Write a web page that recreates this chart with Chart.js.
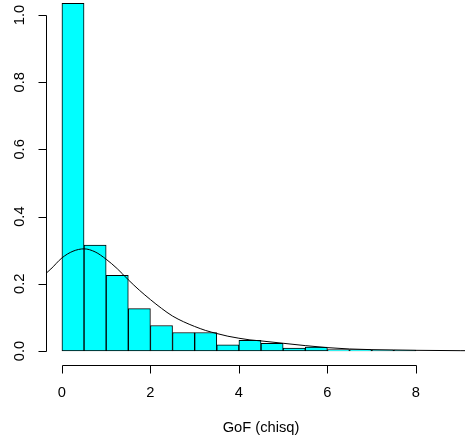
<!DOCTYPE html>
<html>
<head>
<meta charset="utf-8">
<script src="https://cdn.jsdelivr.net/npm/chart.js@4"></script>
<style>
  html, body { margin: 0; padding: 0; background: #fff; }
  #wrap { width: 465px; height: 441px; position: relative; }
</style>
</head>
<body>
<div id="wrap"><canvas id="c" width="465" height="441"></canvas></div>
<script>
// Histogram bins (centers) and densities
const binCenters = [0.25, 0.75, 1.25, 1.75, 2.25, 2.75, 3.25, 3.75, 4.25, 4.75, 5.25, 5.75, 6.25, 6.75, 7.25, 7.75, 8.25, 8.75];
const binDensity = [1.035, 0.315, 0.225, 0.126, 0.076, 0.055, 0.055, 0.018, 0.032, 0.023, 0.009, 0.012, 0.004, 0.004, 0.003, 0.003, 0.0, 0.0];

// Density curve
const curveX = [-0.36, -0.25, 0, 0.25, 0.5, 0.75, 1.0, 1.25, 1.5, 1.75, 2.0, 2.25, 2.5, 2.75, 3.0, 3.25, 3.5, 3.75, 4.0, 4.25, 4.5, 5.0, 5.5, 6.0, 6.5, 7.0, 7.5, 8.0, 9.0, 9.11];
const curveY = [0.231, 0.244, 0.277, 0.297, 0.304, 0.295, 0.273, 0.245, 0.212, 0.181, 0.153, 0.127, 0.104, 0.087, 0.073, 0.061, 0.052, 0.044, 0.038, 0.033, 0.030, 0.023, 0.016, 0.010, 0.006, 0.004, 0.003, 0.002, 0.001, 0.001];

// Axis ticks and labels
const xTicks = [0, 2, 4, 6, 8];
const yTicks = [0.0, 0.2, 0.4, 0.6, 0.8, 1.0];
const yTickLabels = ["0.0", "0.2", "0.4", "0.6", "0.8", "1.0"];
const xTitle = "GoF (chisq)";

const FONT = '14.7px "Liberation Sans", Arial, sans-serif';

const rAxes = {
  id: 'rAxes',
  afterDraw(chart) {
    const ctx = chart.ctx;
    const xs = chart.scales.x, ys = chart.scales.y;
    const area = chart.chartArea;
    const axY = area.bottom + 0.5;
    const axX = area.left + 0.5;
    ctx.save();
    ctx.strokeStyle = '#000';
    ctx.fillStyle = '#000';
    ctx.lineWidth = 1;
    // x axis
    const x0 = Math.round(xs.getPixelForValue(xTicks[0])) + 0.5;
    const x1 = Math.round(xs.getPixelForValue(xTicks[xTicks.length - 1])) + 0.5;
    ctx.beginPath();
    ctx.moveTo(x0, axY); ctx.lineTo(x1, axY);
    xTicks.forEach(t => {
      const px = Math.round(xs.getPixelForValue(t)) + 0.5;
      ctx.moveTo(px, axY); ctx.lineTo(px, axY + 8);
    });
    // y axis
    const y0 = Math.round(ys.getPixelForValue(yTicks[0])) + 0.5;
    const y1 = Math.round(ys.getPixelForValue(yTicks[yTicks.length - 1])) + 0.5;
    ctx.moveTo(axX, y0); ctx.lineTo(axX, y1);
    yTicks.forEach(t => {
      const py = Math.round(ys.getPixelForValue(t)) + 0.5;
      ctx.moveTo(axX, py); ctx.lineTo(axX - 8, py);
    });
    ctx.stroke();
    // labels
    ctx.font = FONT;
    ctx.textAlign = 'center';
    ctx.textBaseline = 'alphabetic';
    xTicks.forEach(t => {
      ctx.fillText(String(t), xs.getPixelForValue(t), 397);
    });
    yTicks.forEach((t, i) => {
      ctx.save();
      ctx.translate(24, ys.getPixelForValue(t));
      ctx.rotate(-Math.PI / 2);
      ctx.fillText(yTickLabels[i], 0, 0);
      ctx.restore();
    });
    ctx.fillText(xTitle, (area.left + xs.getPixelForValue(9.36)) / 2, 432);
    ctx.restore();
  }
};

new Chart(document.getElementById('c'), {
  data: {
    datasets: [
      {
        type: 'line',
        data: curveX.map((x, i) => ({ x: x, y: curveY[i] })),
        borderColor: '#000',
        borderWidth: 1,
        pointRadius: 0,
        cubicInterpolationMode: 'monotone',
        fill: false,
        order: 0
      },
      {
        type: 'bar',
        data: binCenters.map((x, i) => ({ x: x, y: binDensity[i] })),
        backgroundColor: '#00FFFF',
        borderColor: '#000',
        borderWidth: 1,
        borderSkipped: false,
        barPercentage: 1.0,
        categoryPercentage: 1.0,
        grouped: false,
        order: 1
      }
    ]
  },
  options: {
    responsive: false,
    animation: false,
    devicePixelRatio: 1,
    layout: { padding: { left: 46, right: 0, top: 0, bottom: 76 } },
    plugins: { legend: { display: false }, tooltip: { enabled: false } },
    scales: {
      x: { type: 'linear', min: -0.36, max: 9.11, display: false, offset: false },
      y: { type: 'linear', min: -0.04167, max: 1.04464, display: false }
    }
  },
  plugins: [rAxes]
});
</script>
</body>
</html>
